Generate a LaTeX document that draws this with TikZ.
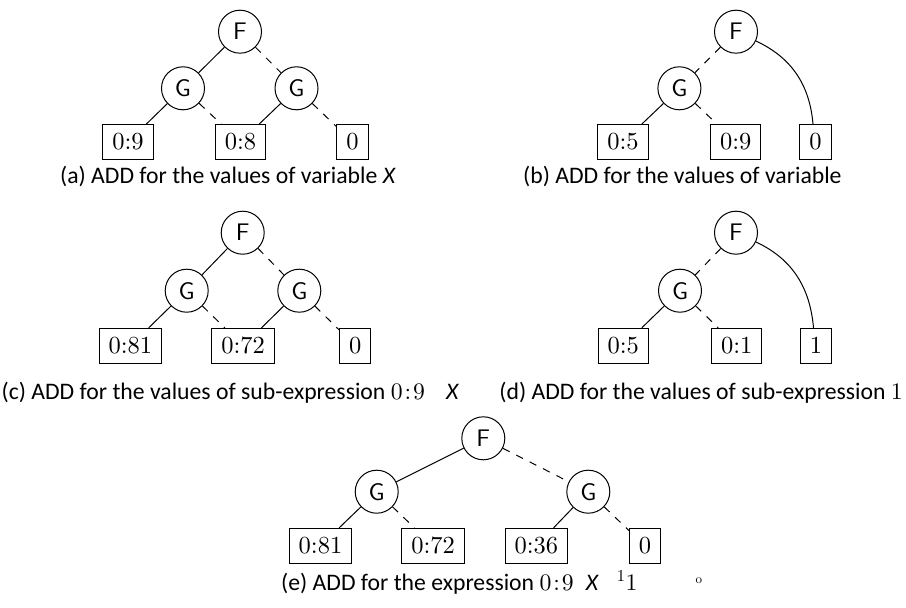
\documentclass[tikz,border=0pt]{standalone}
\usepackage{fontspec}
\newfontfamily\capfont{Carlito}
\newfontfamily\numfont{lmroman10-regular}[Extension=.otf]
\newfontfamily\nodefont{lmsans10-regular}[Extension=.otf]
\newcommand{\lmnum}[1]{{\numfont #1}}
\newcommand{\capzn}{{\numfont 0\kern2bp:\kern2bp9}}
\begin{document}
\begin{tikzpicture}[x=1bp,y=-1bp,
  dd/.style={circle, draw, line width=1bp, minimum size=43bp, inner sep=0pt,
    font=\nodefont\fontsize{24bp}{30bp}\selectfont},
  leaf/.style={draw, rectangle, line width=1bp, minimum height=35bp,
    inner xsep=9.5bp, inner ysep=0pt, font=\numfont\fontsize{24.5bp}{30bp}\selectfont},
  hi/.style={line width=1bp},
  lo/.style={line width=1bp, dash pattern=on 7.5bp off 7.5bp},
  captxt/.style={font=\capfont\fontsize{23.7bp}{28bp}\selectfont, inner sep=0pt}]
\useasboundingbox (0,0) rectangle (906,608);

% (a)
\node[dd] (aF) at (240,31.7) {F};
\node[dd] (aG1) at (183,88.3) {G};
\node[dd] (aG2) at (296.5,88.3) {G};
\node[leaf] (aL1) at (128,142) {0:9};
\node[leaf] (aL2) at (240.5,142) {0:8};
\node[leaf] (aL3) at (352.5,142) {0};
\draw[hi] (aF) -- (aG1);
\draw[lo] (aF) -- (aG2);
\draw[hi] (aG1) -- (aL1);
\draw[lo] (aG1) -- (aL2);
\draw[hi] (aG2) -- (aL2);
\draw[lo] (aG2) -- (aL3);
\node[captxt, anchor=base] (capa) at (228,184) {(a) ADD for the values of variable \textit{X}};

% (b)
\node[dd] (bF) at (736,31.7) {F};
\node[dd] (bG) at (679.4,88.3) {G};
\node[leaf] (bL1) at (623,142) {0:5};
\node[leaf] (bL2) at (735.7,142) {0:9};
\node[leaf] (bL3) at (815.5,142) {0};
\draw[lo] (bF) -- (bG);
\draw[hi] (bG) -- (bL1);
\draw[lo] (bG) -- (bL2);
\draw[hi] (bF) to[out=-25,in=95] ([xshift=-2.5bp]bL3.north);
\node[captxt, anchor=base west] (capb) at (523,184) {(b) ADD for the values of variable};

% (c)
\node[dd] (cF) at (242.7,232.7) {F};
\node[dd] (cG1) at (186.7,290.7) {G};
\node[dd] (cG2) at (299.3,290.7) {G};
\node[leaf] (cL1) at (130.3,345.8) {0:81};
\node[leaf] (cL2) at (243.2,345.8) {0:72};
\node[leaf] (cL3) at (355.3,345.8) {0};
\draw[hi] (cF) -- (cG1);
\draw[lo] (cF) -- (cG2);
\draw[hi] (cG1) -- (cL1);
\draw[lo] (cG1) -- (cL2);
\draw[hi] (cG2) -- (cL2);
\draw[lo] (cG2) -- (cL3);
\node[captxt, anchor=base west] (capc) at (1.5,399) {(c) ADD for the values of sub-expression \capzn};
\node[captxt, anchor=base west] (capcx) at (446,399) {\textit{X}};

% (d)
\node[dd] (dF) at (736,232.7) {F};
\node[dd] (dG) at (680,290.7) {G};
\node[leaf] (dL1) at (623.3,345.8) {0:5};
\node[leaf] (dL2) at (736.7,345.8) {0:1};
\node[leaf] (dL3) at (816,345.8) {1};
\draw[lo] (dF) -- (dG);
\draw[hi] (dG) -- (dL1);
\draw[lo] (dG) -- (dL2);
\draw[hi] (dF) to[out=-25,in=95] ([xshift=-2.5bp]dL3.north);
\node[captxt, anchor=base east] (capd) at (903,399) {(d) ADD for the values of sub-expression \lmnum{1}};

% (e)
\node[dd] (eF) at (483.3,438.3) {F};
\node[dd] (eG1) at (376.7,491.7) {G};
\node[dd] (eG2) at (588.3,491.7) {G};
\node[leaf] (eL1) at (320.5,545.8) {0:81};
\node[leaf] (eL2) at (433.2,545.8) {0:72};
\node[leaf] (eL3) at (536.3,545.8) {0:36};
\node[leaf] (eL4) at (645,545.8) {0};
\draw[hi] (eF) -- (eG1);
\draw[lo] (eF) -- (eG2);
\draw[hi] (eG1) -- (eL1);
\draw[lo] (eG1) -- (eL2);
\draw[hi] (eG2) -- (eL3);
\draw[lo] (eG2) -- (eL4);
\node[captxt, anchor=base west] (cape) at (281,590) {(e) ADD for the expression \capzn\hspace{12bp}\textit{X}\hspace{18bp}\lmnum{\textsuperscript{1}1}\hspace{58bp}\raisebox{7bp}{\lmnum{\fontsize{13bp}{13bp}\selectfont o}}};
\end{tikzpicture}
\end{document}
